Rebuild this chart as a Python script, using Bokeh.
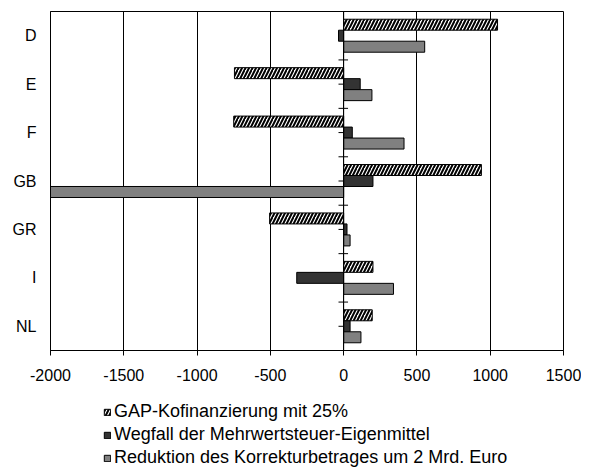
from bokeh.plotting import figure
from bokeh.models import (ColumnDataSource, FactorRange, Span, Legend, LegendItem,
                          FixedTicker, Range1d)
from bokeh.layouts import column
from bokeh.transform import dodge
from bokeh.embed import file_html
from bokeh.resources import INLINE

# ---- data ----
categories = ["D", "E", "F", "GB", "GR", "I", "NL"]
gap_kofinanzierung = [1050, -745, -750, 940, -505, 200, 195]
wegfall_mwst = [-35, 113, 59, 200, 23, -320, 44]
reduktion_korrektur = [553, 193, 412, -2000, 44, 340, 118]
x_ticks = [-2000, -1500, -1000, -500, 0, 500, 1000, 1500]
series_labels = ["GAP-Kofinanzierung mit 25%",
                 "Wegfall der Mehrwertsteuer-Eigenmittel",
                 "Reduktion des Korrekturbetrages um 2 Mrd. Euro"]

FONT = "Liberation Sans"
BAR_H = 0.227

STYLE_GAP = dict(fill_color="white", line_color="black", line_width=1,
                 hatch_pattern="/", hatch_color="black", hatch_scale=7, hatch_weight=2)
STYLE_MWST = dict(fill_color="#333333", line_color="black", line_width=1)
STYLE_KORR = dict(fill_color="#808080", line_color="black", line_width=1)

src = ColumnDataSource(dict(
    cat=categories,
    gap=gap_kofinanzierung,
    mwst=wegfall_mwst,
    korr=reduktion_korrektur,
    tick_l=[-35] * len(categories),
    tick_r=[30] * len(categories),
    tick_c=[0] * len(categories),
))

p = figure(
    y_range=FactorRange(factors=categories[::-1], range_padding=0),
    x_range=Range1d(x_ticks[0], x_ticks[-1]),
    frame_width=513, frame_height=339,
    min_border_left=50, min_border_right=18, min_border_top=11, min_border_bottom=36,
    output_backend="svg", toolbar_location=None,
)
p.outline_line_color = "black"
p.outline_line_width = 1
p.background_fill_color = "white"
p.border_fill_color = "white"

# category boundary ticks on the zero axis
p.segment(x0="tick_l", x1="tick_r",
          y0=dodge("cat", -0.5, range=p.y_range), y1=dodge("cat", -0.5, range=p.y_range),
          source=src, line_color="black", line_width=1)
p.segment(x0="tick_l", x1="tick_c",
          y0=dodge("cat", 0, range=p.y_range), y1=dodge("cat", 0, range=p.y_range),
          source=src, line_color="black", line_width=1)

p.hbar(y=dodge("cat", BAR_H, range=p.y_range), left=0, right="gap", height=BAR_H,
       source=src, **STYLE_GAP)
p.hbar(y=dodge("cat", 0, range=p.y_range), left=0, right="mwst", height=BAR_H,
       source=src, **STYLE_MWST)
p.hbar(y=dodge("cat", -BAR_H, range=p.y_range), left=0, right="korr", height=BAR_H,
       source=src, **STYLE_KORR)

p.add_layout(Span(location=0, dimension="height", line_color="black", line_width=1))

# axes
p.xaxis.ticker = FixedTicker(ticks=x_ticks)
p.xaxis.major_label_overrides = {t: str(t) for t in x_ticks}
p.xaxis.minor_tick_line_color = None
p.xaxis.major_tick_in = 0
p.xaxis.major_tick_out = 5
p.xaxis.major_tick_line_color = "black"
p.xaxis.axis_line_color = "black"
p.xaxis.major_label_text_font = FONT
p.xaxis.major_label_text_font_size = "16px"
p.xaxis.major_label_text_color = "black"
p.xaxis.major_label_standoff = 13

p.yaxis.major_tick_line_color = None
p.yaxis.minor_tick_line_color = None
p.yaxis.major_tick_in = 0
p.yaxis.major_tick_out = 0
p.yaxis.axis_line_color = "black"
p.yaxis.major_label_text_font = FONT
p.yaxis.major_label_text_font_size = "16px"
p.yaxis.major_label_text_color = "black"
p.yaxis.major_label_standoff = 14

p.ygrid.grid_line_color = None
p.xgrid.ticker = FixedTicker(ticks=x_ticks)
p.xgrid.grid_line_color = "black"
p.xgrid.grid_line_width = 1

# ---- legend panel below the chart (hidden proxy renderers carry the styles) ----
lg = figure(width=581, height=86, min_border=0,
            y_range=FactorRange(factors=categories[::-1], range_padding=0),
            x_range=Range1d(x_ticks[0], x_ticks[-1]),
            output_backend="svg", toolbar_location=None)
lg.axis.visible = False
lg.grid.visible = False
lg.outline_line_color = None
lg.background_fill_color = "white"
lg.border_fill_color = "white"
l_gap = lg.hbar(y="cat", left=0, right="gap", height=BAR_H, source=src, visible=False, **STYLE_GAP)
l_mwst = lg.hbar(y="cat", left=0, right="mwst", height=BAR_H, source=src, visible=False, **STYLE_MWST)
l_korr = lg.hbar(y="cat", left=0, right="korr", height=BAR_H, source=src, visible=False, **STYLE_KORR)

legend = Legend(items=[
    LegendItem(label=series_labels[0], renderers=[l_gap]),
    LegendItem(label=series_labels[1], renderers=[l_mwst]),
    LegendItem(label=series_labels[2], renderers=[l_korr]),
])
legend.orientation = "vertical"
legend.location = (53, 4)
legend.margin = 0
legend.padding = 0
legend.spacing = 2
legend.label_height = 20
legend.glyph_height = 8
legend.glyph_width = 8
legend.label_standoff = 3
legend.label_text_font = FONT
legend.label_text_font_size = "18px"
legend.label_text_color = "black"
legend.border_line_color = None
legend.background_fill_alpha = 0
legend.inactive_fill_alpha = 0
lg.add_layout(legend, "center")

open("out.html", "w").write(file_html(column(p, lg, spacing=0), INLINE))
